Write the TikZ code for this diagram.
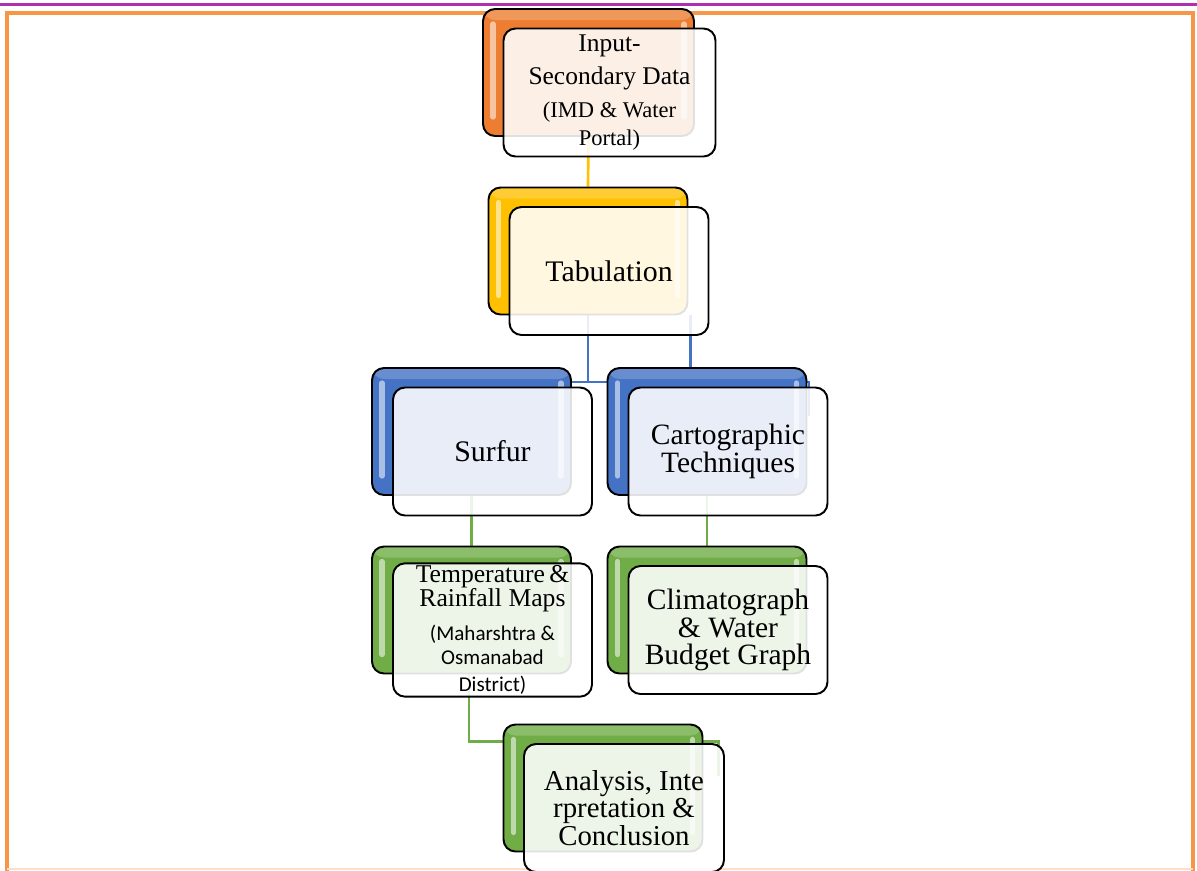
\documentclass[tikz,border=0pt]{standalone}
\usepackage{fontspec}
\setmainfont{Liberation Serif}
\newfontfamily\calibfont{Carlito}
\usetikzlibrary{positioning}
\definecolor{smartorange}{RGB}{237,125,49}
\definecolor{smartgold}{RGB}{255,192,0}
\definecolor{smartblue}{RGB}{68,114,196}
\definecolor{smartgreen}{RGB}{112,173,71}
\definecolor{framepurple}{RGB}{176,48,176}
\definecolor{frameorange}{RGB}{247,150,70}
\pgfdeclarelayer{background}
\pgfsetlayers{background,main}

\begin{document}
\begin{tikzpicture}[
    x=0.02cm, y=-0.02cm,
    backbox/.style={rectangle, rounded corners=0.24cm, draw=black, line width=1.1pt, fill=#1,
        minimum width=3.98cm, minimum height=2.54cm,
        path picture={
            \fill[white, opacity=0.2] (path picture bounding box.north west) rectangle ([yshift=-0.22cm]path picture bounding box.north east);
            \draw[white, opacity=0.55, line width=3pt, line cap=round]
                ([xshift=0.2cm,yshift=-0.3cm]path picture bounding box.north west) -- ([xshift=0.2cm,yshift=0.38cm]path picture bounding box.south west)
                ([xshift=-0.2cm,yshift=-0.3cm]path picture bounding box.north east) -- ([xshift=-0.2cm,yshift=0.38cm]path picture bounding box.south east);
        }},
    frontbox/.style={rectangle, rounded corners=0.24cm, draw=black, line width=1.1pt, fill=white,
        fill opacity=0.88, text opacity=1, minimum width=3.98cm, minimum height=2.56cm,
        text width=3.6cm, inner sep=1pt, align=flush center, xshift=0.42cm, yshift=-0.4cm,
        font=\fontsize{17}{15.8}\selectfont},
    link/.style={draw=#1, line width=1.5pt}
]
    \useasboundingbox (0,0) rectangle (1197,870);

    % Input
    \node[backbox=smartorange, minimum width=4.22cm] (inB) at (588.5,72.5) {};
    \node[frontbox, minimum width=4.24cm] (inF) at (inB) {\fontsize{14.5}{18.7}\selectfont Input-\\ Secondary Data\par\vspace{6pt}\fontsize{12.8}{12.5}\selectfont (IMD \& Water\\ Portal)};

    % Tabulation
    \node[backbox=smartgold] (tabB) at (588,251) {};
    \node[frontbox] (tabF) at (tabB) {Tabulation};

    % Surfur / cartography
    \node[backbox=smartblue] (surB) at (471.5,431.5) {};
    \node[frontbox] (surF) at (surB) {Surfur};
    \node[backbox=smartblue] (carB) at (707,431.5) {};
    \node[frontbox] (carF) at (carB) {\fontsize{16.8}{15.3}\selectfont Cartographic\\ Techniques};

    % Outputs
    \node[backbox=smartgreen] (tmpB) at (471.5,610) {};
    \node[frontbox] (tmpF) at (tmpB) {\fontsize{14.6}{13.6}\selectfont Temperature\,\&\\ Rainfall Maps\par\vspace{6.5pt}\calibfont\fontsize{12}{13.3}\selectfont (Maharshtra \&\\ Osmanabad\\ District)};
    \node[backbox=smartgreen] (climB) at (707,610) {};
    \node[frontbox] (climF) at (climB) {\fontsize{16.8}{15.9}\selectfont Climatograph\\ \& Water\\ Budget Graph};

    % Analysis
    \node[backbox=smartgreen] (anaB) at (603,788) {};
    \node[frontbox, minimum width=4cm] (anaF) at (anaB) {\fontsize{16.4}{15.1}\selectfont Analysis, Inte\\ rpretation \&\\ Conclusion};

    \begin{pgfonlayer}{background}
        % page frame
        \draw[framepurple, line width=1.5pt] (0,4.5) -- (1197,4.5);
        \draw[frameorange, line width=1.8pt] (7,875) -- (7,13) -- (1193,13) -- (1193,875);
        \draw[frameorange!30, line width=0.6pt] (7,869) -- (1193,869);

        % connectors
        \draw[link=smartgold] (inB.south) -- (tabB.north);
        \coordinate (tabjoin) at ([yshift=-0.3cm]tabB.south |- surB.north);
        \draw[link=smartblue] (tabB.south) -- (tabjoin);
        \draw[link=smartblue] (surB.east |- tabjoin) -- ([xshift=0.03cm]carB.east |- tabjoin) -- ++(0,-0.68cm);
        \draw[link=smartblue] ([xshift=0.04cm]tabB.south east) -- ([xshift=0.04cm]tabB.south east |- carB.north);
        \draw[link=smartgreen] (surB.south) -- (tmpB.north);
        \draw[link=smartgreen] (carB.south) -- (climB.north);
        \coordinate (anajoin) at ([yshift=-0.36cm]anaB.north);
        \draw[link=smartgreen] ([xshift=-0.05cm]tmpB.south) |- ([xshift=0.3cm]anaB.east |- anajoin) -- ++(0,-0.68cm);
    \end{pgfonlayer}
\end{tikzpicture}
\end{document}
